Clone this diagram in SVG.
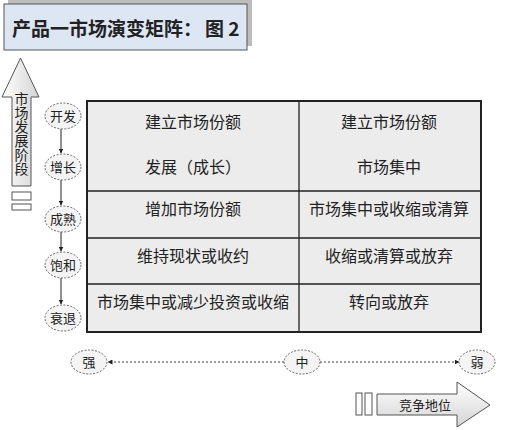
<svg xmlns="http://www.w3.org/2000/svg" width="519" height="430" viewBox="0 0 519 430">
<defs>
<linearGradient id="gv" x1="0" y1="0" x2="0" y2="1"><stop offset="0" stop-color="#ffffff"/><stop offset="1" stop-color="#d4d4d4"/></linearGradient>
<linearGradient id="gh" x1="0" y1="0" x2="1" y2="0"><stop offset="0" stop-color="#ffffff"/><stop offset="1" stop-color="#d4d4d4"/></linearGradient>
<marker id="ah" viewBox="0 0 10 10" refX="9" refY="5" markerWidth="5" markerHeight="5" orient="auto"><path d="M0,0 L10,5 L0,10 z" fill="#222"/></marker>
<style>
.t{font-family:"Noto Sans CJK SC","Liberation Sans",sans-serif;fill:#222;}
.cell{font-size:16px;text-anchor:middle;}
.node{fill:#f4f4f4;stroke:#666;stroke-width:1;stroke-dasharray:2 1.5;}
.lbl{font-size:13px;text-anchor:middle;}
.conn{stroke:#222;stroke-width:1;fill:none;}
.dot{stroke:#444;stroke-width:1;stroke-dasharray:2 2;fill:none;}
.blk{stroke:#555;stroke-width:1;}
</style>
</defs>
<rect width="519" height="430" fill="#ffffff"/>
<g id="title">
<rect x="8" y="0" width="244" height="46" fill="#bdbdbd"/>
<rect x="4" y="4" width="243" height="46" fill="#dde6f3" stroke="#555" stroke-width="1"/>
<text class="t" x="12" y="36" font-size="19" font-weight="bold">产品一市场演变矩阵：</text>
<text class="t" x="205" y="36" font-size="19" font-weight="bold">图 2</text>
</g>
<g id="stage-axis">
<path class="blk" d="M12,186 L12,97 L2,97 L20.5,58 L39,97 L31,97 L31,186 Z" fill="url(#gh)"/>
<text class="t" x="21.5" y="134" font-size="14" text-anchor="middle" writing-mode="tb" glyph-orientation-vertical="0">市场发展阶段</text>
<rect class="blk" x="12" y="192" width="19" height="8" fill="#fff"/>
<rect class="blk" x="12" y="204" width="19" height="6" fill="#fff"/>
</g>
<g id="matrix">
<rect x="87" y="101" width="394" height="231" fill="#ececec" stroke="#222" stroke-width="2"/>
<line x1="299" y1="101" x2="299" y2="332" stroke="#222" stroke-width="1.3"/>
<line x1="87" y1="191" x2="481" y2="191" stroke="#222" stroke-width="1.3"/>
<line x1="87" y1="238" x2="481" y2="238" stroke="#222" stroke-width="1.3"/>
<line x1="87" y1="284" x2="481" y2="284" stroke="#222" stroke-width="1.3"/>
<text class="t cell" x="193" y="128">建立市场份额</text>
<text class="t cell" x="193" y="173">发展（成长）</text>
<text class="t cell" x="389" y="128">建立市场份额</text>
<text class="t cell" x="389" y="173">市场集中</text>
<text class="t cell" x="193" y="215">增加市场份额</text>
<text class="t cell" x="389" y="215">市场集中或收缩或清算</text>
<text class="t cell" x="193" y="262">维持现状或收约</text>
<text class="t cell" x="389" y="262">收缩或清算或放弃</text>
<text class="t cell" x="193" y="308">市场集中或减少投资或收缩</text>
<text class="t cell" x="389" y="308">转向或放弃</text>
</g>
<g id="connectors">
<line class="conn" x1="61" y1="129" x2="61" y2="153" marker-end="url(#ah)"/>
<line class="conn" x1="61" y1="180" x2="61" y2="205" marker-end="url(#ah)"/>
<line class="conn" x1="61" y1="232" x2="61" y2="251" marker-end="url(#ah)"/>
<line class="conn" x1="61" y1="278" x2="61" y2="304" marker-end="url(#ah)"/>
<line class="dot" x1="284" y1="362" x2="108" y2="362" marker-end="url(#ah)"/>
<line class="dot" x1="320" y1="362" x2="459" y2="362" marker-end="url(#ah)"/>
</g>
<g id="stage-kaifa"><ellipse class="node" cx="63" cy="116" rx="18" ry="13"/><text class="t lbl" x="63" y="121">开发</text></g>
<g id="stage-zengzhang"><ellipse class="node" cx="63" cy="167" rx="18" ry="13"/><text class="t lbl" x="63" y="172">增长</text></g>
<g id="stage-chengshu"><ellipse class="node" cx="63" cy="219" rx="18" ry="13"/><text class="t lbl" x="63" y="224">成熟</text></g>
<g id="stage-baohe"><ellipse class="node" cx="63" cy="265" rx="18" ry="13"/><text class="t lbl" x="63" y="270">饱和</text></g>
<g id="stage-shuaitui"><ellipse class="node" cx="63" cy="318" rx="18" ry="13"/><text class="t lbl" x="63" y="323">衰退</text></g>
<g id="pos-qiang"><ellipse class="node" cx="89" cy="362" rx="18" ry="12"/><text class="t lbl" x="89" y="367">强</text></g>
<g id="pos-zhong"><ellipse class="node" cx="302" cy="362" rx="18" ry="12"/><text class="t lbl" x="302" y="367">中</text></g>
<g id="pos-ruo"><ellipse class="node" cx="477" cy="362" rx="18" ry="12"/><text class="t lbl" x="477" y="367">弱</text></g>
<g id="position-axis">
<rect class="blk" x="356" y="393" width="6" height="22" fill="#fff"/>
<rect class="blk" x="365" y="393" width="7" height="22" fill="#fff"/>
<path class="blk" d="M377,394 L457,394 L457,382 L490,405 L457,427 L457,415 L377,415 Z" fill="url(#gv)"/>
<text class="t" x="425" y="410" font-size="13" text-anchor="middle">竞争地位</text>
</g>
</svg>
